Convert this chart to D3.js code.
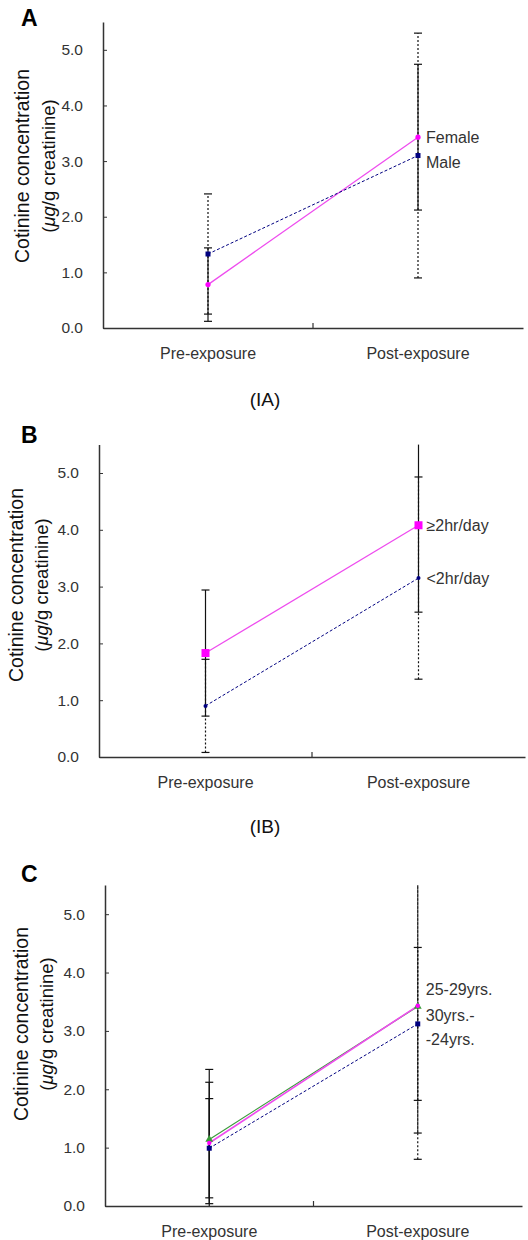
<!DOCTYPE html>
<html>
<head>
<meta charset="utf-8">
<script src="https://cdn.jsdelivr.net/npm/d3@7"></script>
<style>
  body { margin: 0; background: #fff; }
  svg { display: block; font-family: Arial, "Liberation Sans", sans-serif; }
</style>
</head>
<body>
<svg id="fig" width="528" height="1240"></svg>
<script>
// ---------------------------------------------------------------------------
// Data
// ---------------------------------------------------------------------------
const categories = ["Pre-exposure", "Post-exposure"];
const yTicks = [0, 1, 2, 3, 4, 5];

// (A) by sex
const seriesA = ["Female", "Male"];
const meanA = [[0.78, 3.43], [1.33, 3.10]];
const errA  = [[0.66, 1.31], [1.08, 2.20]];

// (B) by daily exposure time
const seriesB = ["≥2hr/day", "<2hr/day"];
const meanB = [[1.83, 4.08], [0.90, 3.15]];
const errB  = [[1.11, 1.53], [0.82, 1.78]];

// (C) by age group
const seriesC = ["25-29yrs.", "30yrs.-", "-24yrs."];
const meanC = [[1.14, 3.42], [1.08, 3.43], [0.99, 3.12]];
const errC  = [[1.20, 2.62], [1.04, 2.18], [0.85, 1.31]];

// ---------------------------------------------------------------------------
// Styles / layout
// ---------------------------------------------------------------------------
const PINK = "#ee4cee", MAGENTA = "#ff00ff", NAVY = "#000080", GREEN = "#3a9a3a";

const panels = [
  {
    letter: "A", letterY: 26, caption: "(IA)", captionY: 406,
    x0: 103, x1: 523, yTop: 22, yBottom: 328, labelY: 166, labelX: [22, 48],
    names: seriesA, mean: meanA, err: errA, dashBy: "series",
    styles: [
      { color: PINK, dash: null, width: 1.3, marker: "circle", size: 2.6, mcolor: MAGENTA, dy: 0 },
      { color: NAVY, dash: "3,2", width: 1, marker: "square", size: 5, mcolor: NAVY, dy: 7 }
    ]
  },
  {
    letter: "B", letterY: 443, caption: "(IB)", captionY: 833,
    x0: 99, x1: 525, yTop: 444.6, yBottom: 757, labelY: 585, labelX: [16, 41],
    names: seriesB, mean: meanB, err: errB, dashBy: "series",
    styles: [
      { color: PINK, dash: null, width: 1.3, marker: "square", size: 8, mcolor: MAGENTA, dy: 0 },
      { color: NAVY, dash: "3,2", width: 1, marker: "circle", size: 2, mcolor: NAVY, dy: 0 }
    ]
  },
  {
    letter: "C", letterY: 882, caption: null,
    x0: 105, x1: 522, yTop: 885, yBottom: 1206, labelY: 1024, labelX: [21, 46],
    names: seriesC, mean: meanC, err: errC, dashBy: "category",
    styles: [
      { color: GREEN, dash: null, width: 1.2, marker: "triangle", size: 3, mcolor: GREEN, dy: -17 },
      { color: PINK, dash: null, width: 1.6, marker: "circle", size: 2.2, mcolor: MAGENTA, dy: 10 },
      { color: NAVY, dash: "3,2", width: 1, marker: "square", size: 5, mcolor: NAVY, dy: 16 }
    ]
  }
];

const svg = d3.select("#fig");

panels.forEach(p => {
  const g = svg.append("g");

  const x = d3.scaleBand().domain(categories).range([p.x0, p.x1]).padding(0);
  const y = d3.scaleLinear().domain([0, 5.5]).range([p.yBottom, p.yTop]);
  const cx = c => x(c) + x.bandwidth() / 2;
  const clampY = v => y(Math.max(0, Math.min(5.5, v)));

  // panel letter
  g.append("text")
    .attr("x", 21).attr("y", p.letterY)
    .attr("font-size", 23).attr("font-weight", "bold")
    .text(p.letter);

  // y axis
  const yAxis = g.append("g")
    .attr("transform", `translate(${p.x0},0)`)
    .call(d3.axisLeft(y).tickValues(yTicks).tickFormat(d3.format(".1f"))
      .tickSizeInner(-4).tickSizeOuter(0).tickPadding(20));
  yAxis.select(".domain").attr("stroke", "#333").attr("stroke-width", 1.5);
  yAxis.selectAll(".tick line").attr("stroke", "#333");
  yAxis.selectAll(".tick text").attr("font-size", 15.5).attr("fill", "#333")
    .attr("font-family", "Arial, 'Liberation Sans', sans-serif");

  // x axis: baseline with a single divider tick between the two groups
  const xAxis = g.append("g")
    .attr("transform", `translate(0,${p.yBottom})`)
    .call(d3.axisBottom(x).tickSize(0).tickPadding(20));
  xAxis.select(".domain").attr("stroke", "#333").attr("stroke-width", 1.5);
  xAxis.selectAll(".tick text").attr("font-size", 16).attr("fill", "#333")
    .attr("font-family", "Arial, 'Liberation Sans', sans-serif");
  xAxis.append("line")
    .attr("x1", p.x0 + x.bandwidth()).attr("x2", p.x0 + x.bandwidth())
    .attr("y1", 0).attr("y2", -5)
    .attr("stroke", "#333").attr("stroke-width", 1.2);

  // y axis title
  g.append("text")
    .attr("transform", `translate(${p.labelX[0]},${p.labelY}) rotate(-90)`)
    .attr("text-anchor", "middle").attr("dominant-baseline", "central")
    .attr("font-size", 19.5).attr("fill", "#111")
    .text("Cotinine concentration");
  const lab2 = g.append("text")
    .attr("transform", `translate(${p.labelX[1]},${p.labelY}) rotate(-90)`)
    .attr("text-anchor", "middle").attr("dominant-baseline", "central")
    .attr("font-size", 18.5).attr("fill", "#111");
  lab2.append("tspan").text("(");
  lab2.append("tspan").attr("font-style", "italic").text("μg");
  lab2.append("tspan").text("/g creatinine)");

  // error bars (dashed drawn first so solid sits on top)
  const bars = [];
  p.names.forEach((n, si) => {
    categories.forEach((c, ci) => {
      const dashed = p.dashBy === "series" ? !!p.styles[si].dash : ci === 1;
      bars.push({ si, ci, c, m: p.mean[si][ci], e: p.err[si][ci], dashed });
    });
  });
  bars.sort((a, b) => (b.dashed ? 1 : 0) - (a.dashed ? 1 : 0));

  const eb = g.append("g").attr("stroke", "#111").attr("stroke-width", 1.2);
  bars.forEach(b => {
    const xx = cx(b.c);
    const lo = b.m - b.e, hi = b.m + b.e;
    eb.append("line")
      .attr("x1", xx).attr("x2", xx)
      .attr("y1", clampY(lo)).attr("y2", clampY(hi))
      .attr("stroke-dasharray", b.dashed ? "2,2" : null);
    [lo, hi].forEach(v => {
      if (v < 0 || v > 5.5) return;
      eb.append("line")
        .attr("x1", xx - 4).attr("x2", xx + 4)
        .attr("y1", y(v)).attr("y2", y(v));
    });
  });

  // series lines
  const line = d3.line().x((d, i) => cx(categories[i])).y(d => y(d));
  p.names.forEach((n, si) => {
    const s = p.styles[si];
    g.append("path")
      .datum(p.mean[si])
      .attr("d", line)
      .attr("fill", "none")
      .attr("stroke", s.color)
      .attr("stroke-width", s.width)
      .attr("stroke-dasharray", s.dash);
  });

  // markers
  p.names.forEach((n, si) => {
    const s = p.styles[si];
    const mk = g.append("g").attr("fill", s.mcolor);
    p.mean[si].forEach((v, ci) => {
      const xx = cx(categories[ci]), yy = y(v);
      if (s.marker === "square") {
        mk.append("rect")
          .attr("x", xx - s.size / 2).attr("y", yy - s.size / 2)
          .attr("width", s.size).attr("height", s.size);
      } else if (s.marker === "triangle") {
        mk.append("path")
          .attr("d", d3.symbol(d3.symbolTriangle, s.size * s.size * 3)())
          .attr("transform", `translate(${xx},${yy})`);
      } else {
        mk.append("circle").attr("cx", xx).attr("cy", yy).attr("r", s.size);
      }
    });

    // series label next to the post-exposure point
    g.append("text")
      .attr("x", cx(categories[1]) + 8)
      .attr("y", y(p.mean[si][1]) + s.dy)
      .attr("dominant-baseline", "central")
      .attr("font-size", 16).attr("fill", "#333")
      .text(n);
  });

  if (p.caption) {
    g.append("text")
      .attr("x", 265).attr("y", p.captionY)
      .attr("text-anchor", "middle")
      .attr("font-size", 19).attr("fill", "#111")
      .text(p.caption);
  }
});
</script>
</body>
</html>
